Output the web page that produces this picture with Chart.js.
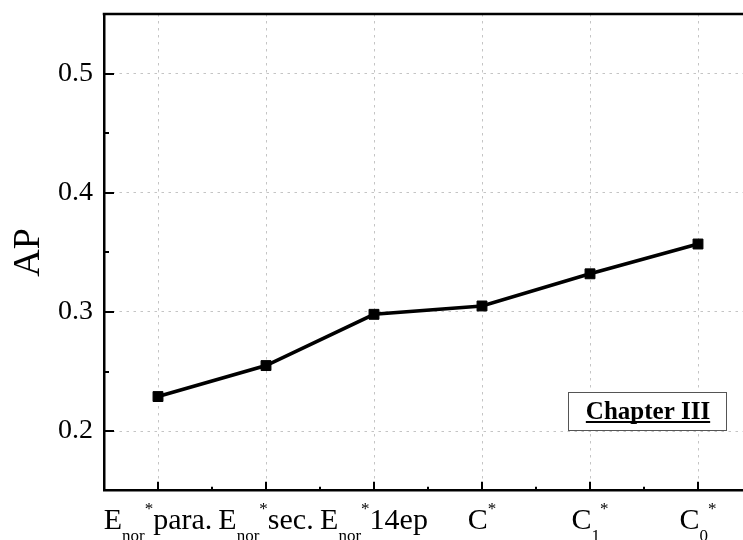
<!DOCTYPE html>
<html>
<head>
<meta charset="utf-8">
<script src="https://cdn.jsdelivr.net/npm/chart.js@4/dist/chart.umd.min.js"></script>
<style>
  html, body { margin: 0; padding: 0; background: #fff; overflow: hidden; }
  #wrap { width: 760px; height: 540px; }
</style>
</head>
<body>
<div id="wrap"><canvas id="c" width="760" height="540"></canvas></div>
<script>
// Categories: base letter, subscript, superscript and trailing text
const categories = ['E_nor* para.', 'E_nor* sec.', 'E_nor* 14ep', 'C*', 'C_1*', 'C_0*'];
const labelBases = ['E', 'E', 'E', 'C', 'C', 'C'];
const labelSubs  = ['nor', 'nor', 'nor', '', '1', '0'];
const labelSups  = ['*', '*', '*', '*', '*', '*'];
const labelTails = ['para.', 'sec.', '14ep', '', '', ''];

// AP per configuration
const apValues = [0.229, 0.255, 0.298, 0.305, 0.332, 0.357];

// Y axis range and ticks
const yMin = 0.15;
const yMax = 0.55;
const yTicks = [0.2, 0.3, 0.4, 0.5];
const yMinorTicks = [0.25, 0.35, 0.45];

const legendText = 'Chapter III';
const FONT = '"Liberation Serif", "Times New Roman", serif';

const frame = {
  id: 'frame',
  afterDraw(chart) {
    const {ctx, chartArea: a, scales: {x, y}} = chart;
    ctx.save();
    ctx.strokeStyle = '#000';

    // top border
    ctx.lineWidth = 2.5;
    ctx.beginPath();
    ctx.moveTo(a.left - 1.25, a.top);
    ctx.lineTo(a.right, a.top);
    ctx.stroke();

    // inward y ticks
    ctx.lineWidth = 2;
    yTicks.forEach(v => {
      const py = Math.round(y.getPixelForValue(v));
      ctx.beginPath(); ctx.moveTo(a.left, py); ctx.lineTo(a.left + 10, py); ctx.stroke();
    });
    yMinorTicks.forEach(v => {
      const py = Math.round(y.getPixelForValue(v));
      ctx.beginPath(); ctx.moveTo(a.left, py); ctx.lineTo(a.left + 5, py); ctx.stroke();
    });

    // inward x ticks
    categories.forEach((c, i) => {
      const px = Math.round(x.getPixelForValue(i));
      ctx.beginPath(); ctx.moveTo(px, a.bottom); ctx.lineTo(px, a.bottom - 9); ctx.stroke();
      const mx = Math.round(x.getPixelForValue(i + 0.5));
      ctx.beginPath(); ctx.moveTo(mx, a.bottom); ctx.lineTo(mx, a.bottom - 4); ctx.stroke();
    });

    // category labels with sub/superscripts
    const mainFont = '30px ' + FONT;
    const smallFont = '17px ' + FONT;
    const baseY = 529;
    ctx.fillStyle = '#000';
    ctx.textBaseline = 'alphabetic';
    ctx.textAlign = 'left';
    categories.forEach((c, i) => {
      ctx.font = mainFont;
      const wBase = ctx.measureText(labelBases[i]).width;
      const wTail = ctx.measureText(labelTails[i]).width;
      ctx.font = smallFont;
      const wSub = ctx.measureText(labelSubs[i]).width;
      const wSup = ctx.measureText(labelSups[i]).width;
      const total = wBase + wSub + wSup + wTail;
      let cx = x.getPixelForValue(i) - total / 2;
      ctx.font = mainFont;
      ctx.fillText(labelBases[i], cx, baseY); cx += wBase;
      ctx.font = smallFont;
      ctx.fillText(labelSubs[i], cx, baseY + 12); cx += wSub;
      ctx.fillText(labelSups[i], cx, baseY - 15); cx += wSup;
      ctx.font = mainFont;
      ctx.fillText(labelTails[i], cx, baseY);
    });

    // legend box
    const bx = 568, by = 392, bw = 158, bh = 38;
    ctx.fillStyle = '#fff';
    ctx.fillRect(bx, by, bw, bh);
    ctx.strokeStyle = '#555';
    ctx.lineWidth = 1;
    ctx.strokeRect(bx + 0.5, by + 0.5, bw, bh);
    ctx.fillStyle = '#000';
    ctx.font = 'bold 25px ' + FONT;
    ctx.textAlign = 'center';
    const tw = ctx.measureText(legendText).width;
    const tcx = bx + bw / 2 + 1;
    ctx.fillText(legendText, tcx, 419);
    ctx.fillRect(tcx - tw / 2, 421, tw, 2);

    ctx.restore();
  }
};

new Chart(document.getElementById('c'), {
  type: 'line',
  data: {
    labels: categories,
    datasets: [{
      data: apValues,
      borderColor: '#000',
      backgroundColor: '#000',
      borderWidth: 3.6,
      tension: 0,
      pointStyle: 'rect',
      pointRadius: 7,
      pointBorderWidth: 1,
      pointBorderColor: '#000',
      pointBackgroundColor: '#000',
      clip: false
    }]
  },
  options: {
    responsive: false,
    animation: false,
    events: [],
    layout: { padding: { top: 14, right: 5.6, left: 0, bottom: 0 } },
    plugins: { legend: { display: false }, tooltip: { enabled: false } },
    scales: {
      x: {
        type: 'category',
        offset: true,
        grid: { offset: false, drawTicks: false, color: '#c4c4c4', lineWidth: 1 },
        border: { display: true, color: '#000', width: 2.5, dash: [2.5, 4.5] },
        ticks: { display: false },
        afterFit(s) { s.height = 49.3; s.paddingLeft = 0; s.paddingRight = 0; }
      },
      y: {
        min: yMin,
        max: yMax,
        grid: { drawTicks: false, color: '#c4c4c4', lineWidth: 1 },
        border: { display: true, color: '#000', width: 2.5, dash: [2.5, 4.5] },
        afterBuildTicks(s) { s.ticks = yTicks.map(v => ({ value: v })); },
        ticks: {
          padding: 11,
          color: '#000',
          font: { family: FONT, size: 28, lineHeight: 1 },
          callback: v => Number(v).toFixed(1)
        },
        title: {
          display: true,
          text: 'AP',
          color: '#000',
          font: { family: FONT, size: 38, lineHeight: 1.2 },
          padding: { top: 6, bottom: 0 }
        },
        afterFit(s) { s.width = 104; s.paddingTop = 0; s.paddingBottom = 0; }
      }
    }
  },
  plugins: [frame]
});
</script>
</body>
</html>
